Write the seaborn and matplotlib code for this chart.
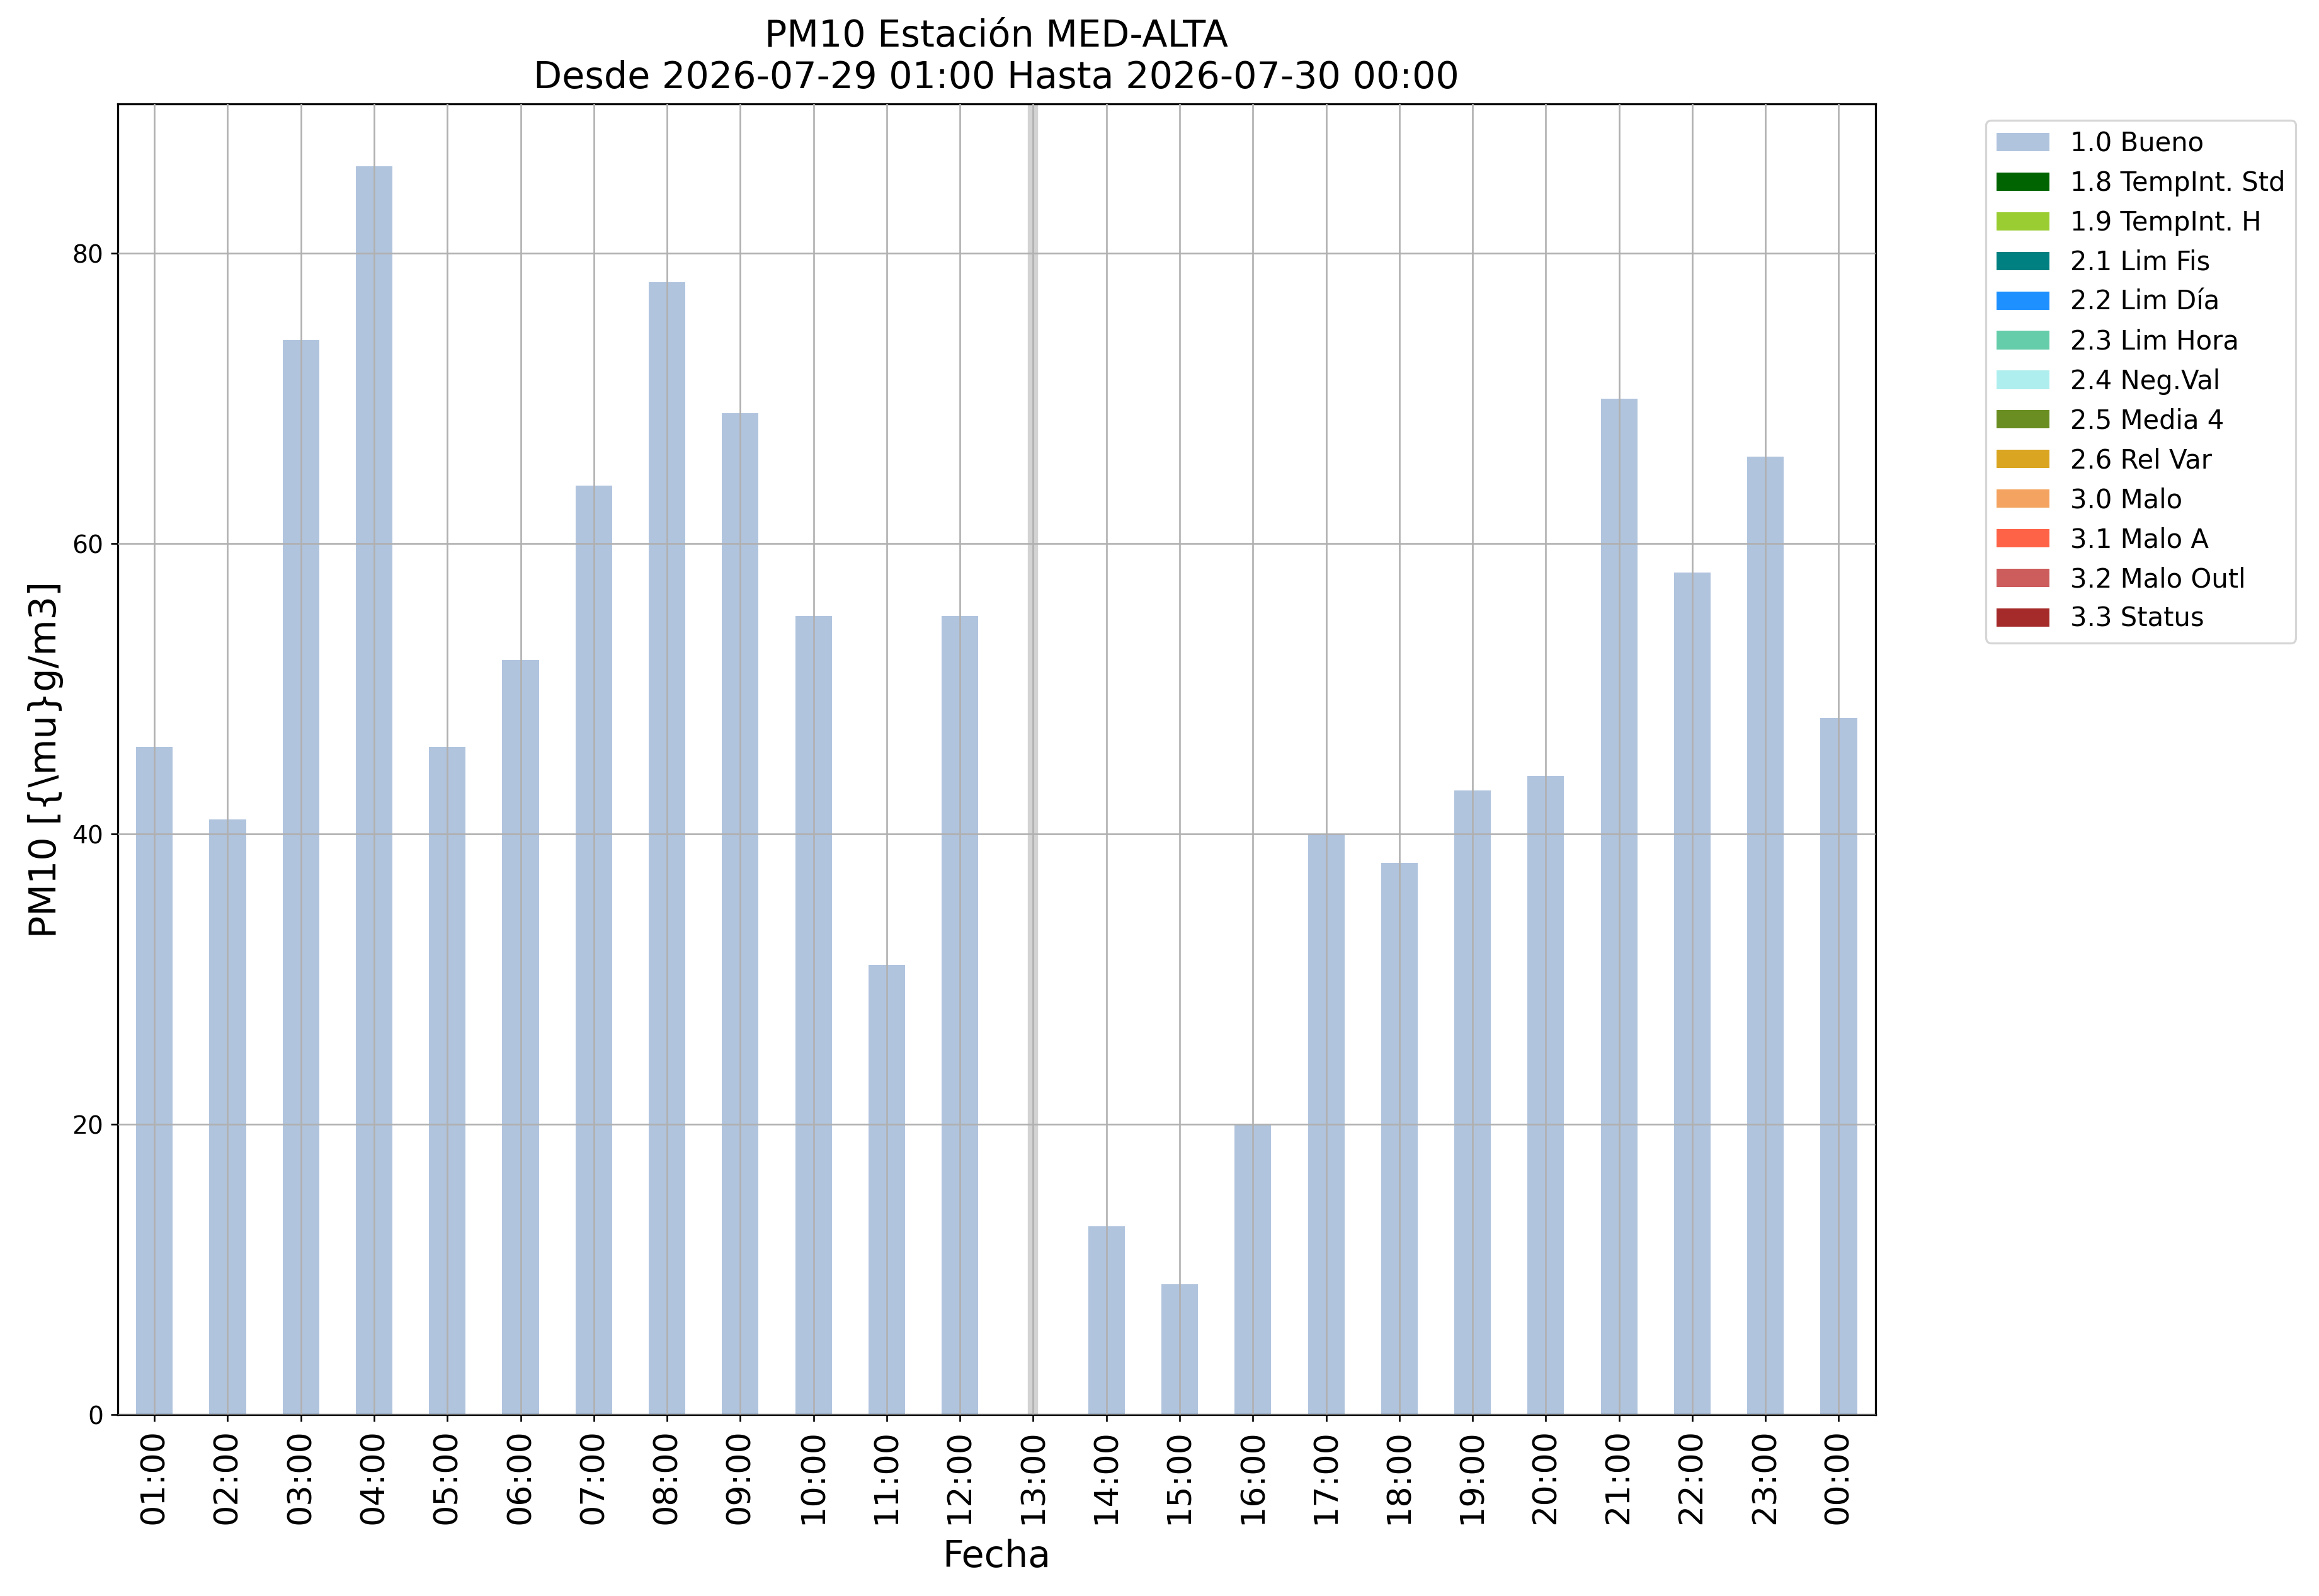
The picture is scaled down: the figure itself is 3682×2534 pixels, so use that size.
import numpy as np
import pandas as pd
import matplotlib
matplotlib.use("Agg")
import matplotlib.pyplot as plt
import seaborn as sns
from matplotlib.patches import Patch

# hourly PM10 values, 13:00 has no data
horas = ["01:00", "02:00", "03:00", "04:00", "05:00", "06:00", "07:00", "08:00",
         "09:00", "10:00", "11:00", "12:00", "13:00", "14:00", "15:00", "16:00",
         "17:00", "18:00", "19:00", "20:00", "21:00", "22:00", "23:00", "00:00"]
valores = [46, 41, 74, 86, 46, 52, 64, 78, 69, 55, 31, 55, np.nan,
           13, 9, 20, 40, 38, 43, 44, 70, 58, 66, 48]
flags = ["1.0 Bueno"] * 24
hora_sin_dato = "13:00"

etiquetas = ["1.0 Bueno", "1.8 TempInt. Std", "1.9 TempInt. H", "2.1 Lim Fis",
             "2.2 Lim Día", "2.3 Lim Hora", "2.4 Neg.Val", "2.5 Media 4",
             "2.6 Rel Var", "3.0 Malo", "3.1 Malo A", "3.2 Malo Outl", "3.3 Status"]
colores = ["lightsteelblue", "darkgreen", "yellowgreen", "teal", "dodgerblue",
           "mediumaquamarine", "paleturquoise", "olivedrab", "goldenrod",
           "sandybrown", "tomato", "indianred", "brown"]

df = pd.DataFrame({"hora": horas, "valor": valores, "flag": flags}).dropna()
paleta = dict(zip(etiquetas, colores))

dpi = 235
fig, ax = plt.subplots(figsize=(3682 / dpi, 2534 / dpi), dpi=dpi)
fig.subplots_adjust(left=0.0508, right=0.8087, top=0.935, bottom=0.1135)

sns.barplot(data=df, x="hora", y="valor", hue="flag", order=horas,
            hue_order=etiquetas, palette=paleta, dodge=False, width=0.5,
            errorbar=None, saturation=1, legend=False, ax=ax)

ax.axvline(horas.index(hora_sin_dato), color="lightgray", linewidth=5)

ax.set_axisbelow(False)
ax.grid(True, color="#b0b0b0", linewidth=0.8)
ax.set_ylim(0, 90.3)
ax.set_yticks([0, 20, 40, 60, 80])
ax.tick_params(axis="y", labelsize=12)
ax.tick_params(axis="x", labelsize=16, rotation=90)
for s in ax.spines.values():
    s.set_color("black")
    s.set_linewidth(1.0)

ax.set_xlabel("Fecha", fontsize=18, labelpad=7)
ax.set_ylabel("PM10 [{\\mu}g/m3]", fontsize=18)
ax.set_title("PM10 Estación MED-ALTA\nDesde 2026-07-29 01:00 Hasta 2026-07-30 00:00",
             fontsize=18, pad=7.5)

handles = [Patch(facecolor=c, label=l) for l, c in zip(etiquetas, colores)]
ax.legend(handles=handles, loc="upper left", bbox_to_anchor=(1.063, 0.9876),
          borderaxespad=0, fontsize=12.8)

fig.savefig("out.png", dpi=dpi)
